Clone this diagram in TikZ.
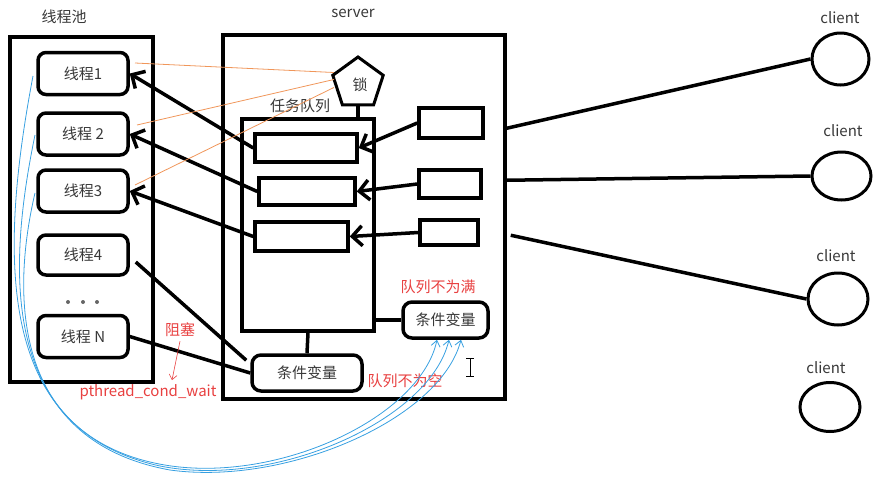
\documentclass[tikz,border=0pt]{standalone}
\usepackage{fontspec}
\setmainfont{Noto Sans CJK SC}
\usetikzlibrary{shapes.geometric,arrows.meta,calc}
\definecolor{noteRed}{RGB}{232,64,64}
\definecolor{lockOrange}{RGB}{240,150,90}
\definecolor{wakeBlue}{RGB}{55,160,225}

\begin{document}
\begin{tikzpicture}[x=1pt,y=-1pt,
  every node/.style={font=\fontsize{15}{18}\selectfont, text=black!78, inner sep=0pt},
  box/.style={draw=black, line width=3.5pt},
  thread/.style={box, rounded corners=8pt, minimum width=90, minimum height=42},
  slot/.style={box, minimum height=28},
  cond/.style={box, rounded corners=9pt, minimum height=36},
  client/.style={draw=black, line width=3pt, ellipse},
  fetch/.style={line width=3.5pt, -{Straight Barb[length=10pt,width=20pt]}},
  wire/.style={line width=3.5pt},
  wake/.style={draw=wakeBlue, line width=0.8pt, -{Straight Barb[length=6pt,width=9pt]}},
  note/.style={text=noteRed}]
  \useasboundingbox (0,0) rectangle (878,480);

  % Draw thread pool
  \node at (64,17) {线程池};
  \node[box, minimum width=143, minimum height=345] (pool) at (81.5,209.5) {};
  \node[thread] (t1) at (83,73.5) {线程1};
  \node[thread] (t2) at (83,134) {线程 2};
  \node[thread] (t3) at (83,191) {线程3};
  \node[thread, minimum height=40] (t4) at (83,255) {线程4};
  \foreach \x in {68,83,97}
    \fill[black!60] (\x,302) circle (2);
  \node[thread] (tn) at (83,336.5) {线程 N};

  % Draw server
  \node at (353,13) {server};
  \node[box, minimum width=282, minimum height=364] (server) at (364,217) {};
  \node[box, line width=3pt, regular polygon, regular polygon sides=5, minimum size=53] (lock) at (358,83.5) {};
  \node at (360,85) {锁};
  \node at (300,106) {任务队列};
  \node[box, minimum width=132, minimum height=212] (queue) at (308,225) {};
  \node[slot, minimum width=102] (s1) at (306,148) {};
  \node[slot, minimum width=96, minimum height=27] (s2) at (307,191.5) {};
  \node[slot, minimum width=93, minimum height=29] (s3) at (301.5,236.5) {};
  \node[box, minimum width=64, minimum height=30] (r1) at (451,123) {};
  \node[box, minimum width=62, minimum height=28] (r2) at (450,184) {};
  \node[box, minimum width=58, minimum height=25] (r3) at (449,232.5) {};
  \node[cond, minimum width=85] (full) at (445.5,320) {条件变量};
  \node[cond, minimum width=110] (empty) at (307,373) {条件变量};
  \node[note] at (438,287) {队列不为满};
  \node[note] at (405,381) {队列不为空};

  % requests go into the queue
  \draw[fetch] (r1.west) -- (s1.east);
  \draw[fetch] (r2.west) -- (s2.east);
  \draw[fetch] (r3.west) -- (s3.east);
  \draw[wire] (lock.south) -- (lock.south |- queue.north);
  \draw[wire] (queue.east |- full.west) -- (full.west);
  \draw[wire] (queue.south) -- (empty.north);

  % threads take tasks
  \draw[fetch] (s1.west) -- (t1.east);
  \draw[fetch] (s2.west) -- (t2.east);
  \draw[fetch] (s3.west) -- (t3.east);
  \draw[wire] ([xshift=6pt,yshift=-7pt]t4.east) -- ([xshift=-4pt,yshift=-7pt]empty.north west);
  \draw[wire] (tn.east) -- (empty.west);

  % lock lines
  \coordinate (o1) at (135,63);
  \coordinate (o2) at (137,125);
  \coordinate (o3) at (135,185);
  \draw[lockOrange, line width=0.8pt] (o1) -- ([yshift=11pt]lock.west);
  \draw[lockOrange, line width=0.8pt] (o2) -- ([yshift=4pt]lock.west);
  \draw[lockOrange, line width=0.8pt] (o3) -- ([yshift=-4pt]lock.west);

  % blocking note
  \node[note] (block) at (180,330) {阻塞};
  \node[note] (wait) at (148,392) {pthread\_cond\_wait};
  \draw[noteRed, line width=0.6pt, -{Straight Barb[length=5pt,width=8pt]}] ([yshift=-4pt]block.south) -- ($(wait.north)+(24,-4)$);

  % wake up threads
  \coordinate (w1) at (33,76);
  \coordinate (w2) at (35,135);
  \coordinate (w3) at (35,193);
  \draw[wake] (w1) .. controls (0,250) and (-5,425) .. (150,462) .. controls (266,490) and (420,420) .. ([xshift=-8.5pt]full.south);
  \draw[wake] (w2) .. controls (5,280) and (5,432) .. (160,466) .. controls (275,489) and (430,420) .. ([xshift=3.5pt]full.south);
  \draw[wake] (w3) .. controls (10,300) and (15,442) .. (170,470) .. controls (285,486) and (440,420) .. ([xshift=15.5pt]full.south);

  % cursor
  \draw[line width=1pt] (470,358) -- (470,376) (466,358) -- (474,358) (466,376) -- (474,376);

  % clients
  \node[client, minimum width=57, minimum height=52] (c1) at (840.5,59) {};
  \node[client, minimum width=59, minimum height=48] (c2) at (841.5,176) {};
  \node[client, minimum width=60, minimum height=52] (c3) at (838,299) {};
  \node[client, minimum width=60, minimum height=49] (c4) at (830,407) {};
  \node at (840,18) {client};
  \node at (843,131) {client};
  \node at (836,256) {client};
  \node at (826,368) {client};
  \draw[wire] ($(server.north east)+(0,95)$) -- (c1.west);
  \draw[wire] ($(server.north east)+(0,147)$) -- (c2.west);
  \draw[wire] ($(server.north east)+(4,202)$) -- (c3.west);

\end{tikzpicture}
\end{document}
